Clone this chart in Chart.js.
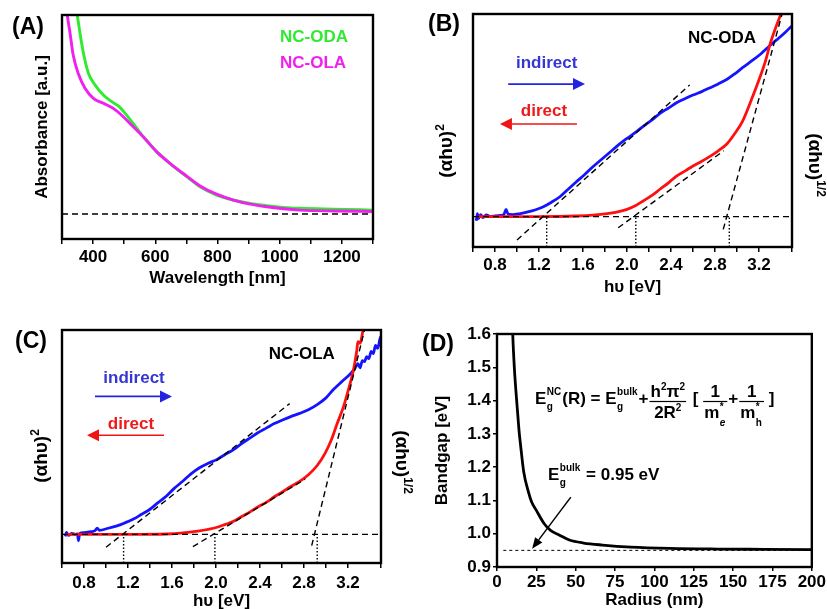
<!DOCTYPE html>
<html>
<head>
<meta charset="utf-8">
<title>Absorption spectra and bandgap</title>
<script src="https://cdn.jsdelivr.net/npm/chart.js@4.4.1/dist/chart.umd.min.js"></script>
<style>
  html, body { margin: 0; padding: 0; background: #fff; }
  body { position: relative; width: 827px; height: 609px; overflow: hidden; }
  canvas { position: absolute; }
</style>
</head>
<body>
<canvas id="chartA" width="413" height="300" style="left:0;top:0"></canvas>
<canvas id="chartB" width="414" height="300" style="left:413px;top:0"></canvas>
<canvas id="chartD" width="414" height="315" style="left:413px;top:300px"></canvas>
<canvas id="chartC" width="425" height="315" style="left:0;top:300px"></canvas>
<script>
const FONT = "'Liberation Sans', Arial, Helvetica, sans-serif";
Chart.defaults.font.family = FONT;
Chart.defaults.font.size = 17;
Chart.defaults.font.weight = 'bold';
Chart.defaults.color = '#000';

// ---------------- (A) absorbance ----------------
const wlODA  = [345, 349, 358, 369, 385, 406, 433, 460, 481, 503, 529, 561, 604, 647, 701, 744, 797, 851, 905, 958, 1012, 1065, 1172, 1301];
const absODA = [1.04, 1.0, 0.918, 0.829, 0.74, 0.688, 0.643, 0.613, 0.594, 0.561, 0.516, 0.457, 0.39, 0.338, 0.278, 0.233, 0.196, 0.174, 0.159, 0.149, 0.141, 0.137, 0.133, 0.129];
const wlOLA  = [314, 317, 326, 336, 352, 374, 401, 433, 465, 497, 529, 561, 604, 647, 701, 744, 797, 851, 905, 958, 1012, 1065, 1172, 1301];
const absOLA = [1.04, 1.0, 0.918, 0.821, 0.74, 0.673, 0.628, 0.606, 0.583, 0.546, 0.501, 0.457, 0.39, 0.338, 0.281, 0.237, 0.2, 0.174, 0.156, 0.144, 0.135, 0.129, 0.125, 0.123];
const absBaseX = [300, 1300];
const absBaseY = [0.112, 0.112];
const wlTickLabels = [400, 600, 800, 1000, 1200];

// ---------------- (B) NC-ODA ----------------
const bIndX = [0.63, 0.64, 0.65, 0.67, 0.69, 0.72, 0.76, 0.80, 0.85, 0.88, 0.90, 0.92, 0.96, 1.02, 1.09, 1.17, 1.24, 1.31, 1.39, 1.46, 1.54, 1.62, 1.69, 1.77, 1.85, 1.92, 2.00, 2.08, 2.15, 2.23, 2.30, 2.38, 2.45, 2.53, 2.60, 2.68, 2.75, 2.83, 2.91, 2.98, 3.05, 3.13, 3.21, 3.28, 3.36, 3.44, 3.51];
const bIndY = [-0.02, 0.015, -0.01, 0.01, -0.005, 0.008, 0.0, 0.004, 0.006, 0.01, 0.035, 0.012, 0.01, 0.014, 0.022, 0.034, 0.049, 0.07, 0.098, 0.133, 0.172, 0.21, 0.246, 0.283, 0.32, 0.353, 0.386, 0.417, 0.447, 0.479, 0.51, 0.537, 0.562, 0.583, 0.60, 0.617, 0.635, 0.655, 0.678, 0.705, 0.735, 0.767, 0.80, 0.835, 0.872, 0.91, 0.948];
const bDirX = [0.65, 0.9, 1.2, 1.54, 1.69, 1.85, 2.0, 2.08, 2.15, 2.23, 2.30, 2.38, 2.45, 2.53, 2.60, 2.68, 2.75, 2.83, 2.91, 2.98, 3.05, 3.13, 3.21, 3.26, 3.30, 3.35, 3.40, 3.42];
const bDirY = [0, 0, 0, 0.003, 0.007, 0.017, 0.036, 0.055, 0.078, 0.106, 0.135, 0.168, 0.20, 0.226, 0.25, 0.273, 0.296, 0.325, 0.36, 0.41, 0.47, 0.575, 0.69, 0.77, 0.85, 0.93, 1.003, 1.04];
const bTanX = [[1.0, 2.57], [1.92, 2.88], [2.875, 3.41]];
const bTanY = [[-0.115, 0.65], [-0.055, 0.325], [-0.063, 1.0]];
const bGaps = [1.27, 2.08, 2.93];

// ---------------- (C) NC-OLA ----------------
const cIndX = [0.63, 0.64, 0.66, 0.69, 0.72, 0.74, 0.75, 0.76, 0.80, 0.86, 0.90, 0.92, 0.94, 1.02, 1.10, 1.17, 1.25, 1.32, 1.40, 1.47, 1.55, 1.62, 1.70, 1.77, 1.85, 1.93, 2.01, 2.08, 2.16, 2.23, 2.31, 2.38, 2.46, 2.53, 2.61, 2.68, 2.76, 2.84, 2.92, 3.00, 3.07, 3.15, 3.22, 3.26, 3.29, 3.31, 3.33, 3.35, 3.37, 3.39, 3.41, 3.43, 3.45, 3.47, 3.49, 3.50];
const cIndY = [-0.01, 0.01, -0.005, 0.005, 0.0, 0.002, -0.03, 0.004, 0.008, 0.013, 0.018, 0.03, 0.02, 0.03, 0.042, 0.056, 0.075, 0.097, 0.123, 0.154, 0.188, 0.225, 0.261, 0.295, 0.326, 0.348, 0.367, 0.39, 0.415, 0.443, 0.472, 0.497, 0.521, 0.542, 0.561, 0.576, 0.592, 0.61, 0.635, 0.668, 0.71, 0.75, 0.785, 0.81, 0.835, 0.815, 0.85, 0.845, 0.87, 0.86, 0.895, 0.885, 0.925, 0.91, 0.955, 0.97];
const cDirX = [0.64, 0.9, 1.2, 1.55, 1.70, 1.85, 2.01, 2.08, 2.16, 2.23, 2.31, 2.38, 2.46, 2.53, 2.61, 2.68, 2.76, 2.84, 2.92, 2.99, 3.05, 3.10, 3.16, 3.21, 3.25, 3.28, 3.29, 3.31, 3.33, 3.34];
const cDirY = [0, 0, 0, 0.002, 0.007, 0.017, 0.035, 0.048, 0.064, 0.086, 0.11, 0.134, 0.158, 0.184, 0.21, 0.234, 0.259, 0.292, 0.337, 0.395, 0.464, 0.54, 0.626, 0.72, 0.805, 0.9, 0.943, 0.935, 0.98, 1.01];
const cTanX = [[1.0, 2.67], [1.79, 2.81], [2.87, 3.35]];
const cTanY = [[-0.063, 0.64], [-0.06, 0.27], [-0.055, 1.0]];
const cGaps = [1.16, 1.99, 2.92];

const evTickLabels = [0.8, 1.2, 1.6, 2.0, 2.4, 2.8, 3.2];

// ---------------- (D) bandgap vs radius ----------------
const dRadius = [9.7, 10, 11, 12, 13, 14, 15, 17, 20, 22, 25, 30, 34, 40, 46, 55, 67, 85, 110, 140, 170, 200];
const dGap    = [1.65, 1.60, 1.50, 1.43, 1.37, 1.31, 1.265, 1.185, 1.125, 1.095, 1.07, 1.03, 1.01, 0.995, 0.981, 0.972, 0.966, 0.96, 0.956, 0.954, 0.953, 0.952];
const dBulkX = [4, 200];
const dBulkY = [0.95, 0.95];

// ---------------- helpers ----------------
function pts(xs, ys) { return xs.map((x, i) => ({ x: x, y: ys[i] })); }

function curve(xs, ys, color, width) {
  return { data: pts(xs, ys), borderColor: color, borderWidth: width, showLine: true,
           pointRadius: 0, cubicInterpolationMode: 'monotone', fill: false };
}

function guide(xs, ys, dash, width) {
  return { data: pts(xs, ys), borderColor: '#000', borderWidth: width || 1.4, borderDash: dash,
           showLine: true, pointRadius: 0, tension: 0, fill: false };
}

function xAxis(min, max, step, labels, height, tickPad, title, titlePad, fmt) {
  return {
    type: 'linear', min: min, max: max,
    ticks: {
      stepSize: step, autoSkip: false, maxRotation: 0, padding: tickPad,
      callback: v => labels.some(l => Math.abs(l - v) < 1e-6) ? (fmt ? fmt(v) : v) : ''
    },
    grid: { drawOnChartArea: false, tickLength: 5, color: '#000', lineWidth: 1.5 },
    border: { display: false },
    title: { display: true, text: title, padding: { top: 0, bottom: titlePad } },
    afterFit: s => { s.height = height; }
  };
}

function yHidden(min, max, width, title, titlePad) {
  return {
    type: 'linear', min: min, max: max,
    ticks: { display: false }, grid: { display: false }, border: { display: false },
    title: title ? { display: true, text: title, padding: { top: titlePad, bottom: 0 } } : { display: false },
    afterFit: s => { s.width = width; }
  };
}

function options(pad, scales) {
  return {
    responsive: false, animation: false, events: [],
    layout: { padding: pad },
    plugins: { legend: { display: false }, tooltip: { enabled: false } },
    scales: scales
  };
}

function setFont(ctx, size, italic) {
  ctx.font = (italic ? 'italic ' : '') + 'bold ' + size + 'px ' + FONT;
}

function text(ctx, t, x, y, color, size, align) {
  setFont(ctx, size || 17);
  ctx.fillStyle = color || '#000';
  ctx.textAlign = align || 'center';
  ctx.textBaseline = 'middle';
  ctx.fillText(t, x, y);
}

function arrow(ctx, x1, y1, x2, y2, color, lw, hl, hw) {
  const a = Math.atan2(y2 - y1, x2 - x1), c = Math.cos(a), s = Math.sin(a);
  ctx.strokeStyle = color; ctx.fillStyle = color; ctx.lineWidth = lw; ctx.setLineDash([]);
  ctx.beginPath(); ctx.moveTo(x1, y1); ctx.lineTo(x2 - hl * c, y2 - hl * s); ctx.stroke();
  ctx.beginPath(); ctx.moveTo(x2, y2);
  ctx.lineTo(x2 - hl * c + hw * s, y2 - hl * s - hw * c);
  ctx.lineTo(x2 - hl * c - hw * s, y2 - hl * s + hw * c);
  ctx.closePath(); ctx.fill();
}

// rich text runs: T = plain piece, S = stacked super/sub pair
const T = (t, s, dy, it) => ({ t: t, s: s, dy: dy || 0, it: !!it });
const S = (a, b) => ({ stack: [a, b] });

function partW(ctx, p) {
  if (p.stack) return Math.max(partW(ctx, p.stack[0]), partW(ctx, p.stack[1])) + 1.5;
  setFont(ctx, p.s, p.it);
  return ctx.measureText(p.t).width;
}
function runW(ctx, parts) { return parts.reduce((w, p) => w + partW(ctx, p), 0); }
function drawRun(ctx, parts, x, y) {
  let cx = x;
  ctx.textAlign = 'left'; ctx.textBaseline = 'alphabetic';
  parts.forEach(p => {
    const list = p.stack ? p.stack : [p];
    list.forEach(q => { setFont(ctx, q.s, q.it); ctx.fillText(q.t, cx + (p.stack ? 0.5 : 0), y + q.dy); });
    cx += partW(ctx, p);
  });
  return cx;
}
function drawFrac(ctx, num, den, x, y) {
  const wn = runW(ctx, num), wd = runW(ctx, den), w = Math.max(wn, wd) + 2;
  drawRun(ctx, num, x + (w - wn) / 2, y - 7);
  drawRun(ctx, den, x + (w - wd) / 2, y + 14);
  ctx.fillRect(x, y - 3, w, 1.2);
  return x + w;
}

function rotTitle(ctx, parts, x, y, rot) {
  ctx.save();
  ctx.translate(x, y); ctx.rotate(rot);
  ctx.fillStyle = '#000';
  drawRun(ctx, parts, -runW(ctx, parts) / 2, 0.35 * parts[0].s);
  ctx.restore();
}

function panelPlugin(draw) {
  return {
    id: 'panel',
    afterDraw(chart) {
      const ctx = chart.ctx, a = chart.chartArea;
      ctx.save();
      ctx.setLineDash([]);
      ctx.strokeStyle = '#000'; ctx.lineWidth = 2.4;
      ctx.strokeRect(a.left, a.top, a.right - a.left, a.bottom - a.top);
      draw(chart, ctx, chart.scales.x, chart.scales.y);
      ctx.restore();
    }
  };
}

const sq = [T('(\u03b1h\u03c5)', 19), T('2', 12, -8)];
const root = [T('(\u03b1h\u03c5)', 19), T('1/2', 12, -8)];

function bandPanel(notes) {
  return function (chart, ctx, x, y) {
    text(ctx, notes.name, x.getPixelForValue(notes.nameAt[0]), y.getPixelForValue(notes.nameAt[1]));
    text(ctx, 'indirect', x.getPixelForValue(notes.indAt[0]), y.getPixelForValue(notes.indAt[1]), '#3636d2');
    text(ctx, 'direct', x.getPixelForValue(notes.dirAt[0]), y.getPixelForValue(notes.dirAt[1]), '#f01818');
    const ia = notes.indArrow, da = notes.dirArrow;
    arrow(ctx, x.getPixelForValue(ia[0]), y.getPixelForValue(ia[2]), x.getPixelForValue(ia[1]), y.getPixelForValue(ia[2]), '#2424e0', 1.7, 12, 6);
    arrow(ctx, x.getPixelForValue(da[0]), y.getPixelForValue(da[2]), x.getPixelForValue(da[1]), y.getPixelForValue(da[2]), '#f01414', 1.7, 12, 6);
    text(ctx, notes.letter, notes.letterAt[0], notes.letterAt[1], '#000', 23);
    rotTitle(ctx, sq, notes.leftAt[0], notes.leftAt[1], -Math.PI / 2);
    rotTitle(ctx, root, notes.rightAt[0], notes.rightAt[1], Math.PI / 2);
  };
}

function bandDatasets(ix, iy, dx, dy, tx, ty, gaps, yMin) {
  const sets = [];
  sets.push(guide([0.6, 3.5], [0, 0], [6, 4]));
  tx.forEach((t, i) => sets.push(guide(t, ty[i], [6, 4])));
  gaps.forEach(g => sets.push(guide([g, g], [yMin, 0], [1.5, 2], 1.4)));
  sets.push(curve(dx, dy, '#ff1010', 2.8));
  sets.push(curve(ix, iy, '#1414ff', 2.8));
  return sets;
}

// ---------------- (A) ----------------
new Chart(document.getElementById('chartA'), {
  type: 'scatter',
  data: { datasets: [
    guide(absBaseX, absBaseY, [6, 4], 1.5),
    curve(wlOLA, absOLA, '#f020f0', 2.9),
    curve(wlODA, absODA, '#30ea30', 2.9)
  ] },
  options: options({ top: 15, right: 40, left: 0, bottom: 0 }, {
    x: xAxis(300, 1300, 100, wlTickLabels, 61, 3, 'Wavelength [nm]', 11.8),
    y: yHidden(0, 1, 62, 'Absorbance [a.u.]', 32.3)
  }),
  plugins: [panelPlugin((chart, ctx, x, y) => {
    text(ctx, 'NC-ODA', x.getPixelForValue(1001), y.getPixelForValue(0.902), '#30ea30', 17, 'left');
    text(ctx, 'NC-OLA', x.getPixelForValue(1001), y.getPixelForValue(0.786), '#f020f0', 17, 'left');
    text(ctx, '(A)', 28, 28, '#000', 23);
  })]
});

// ---------------- (B) ----------------
new Chart(document.getElementById('chartB'), {
  type: 'scatter',
  data: { datasets: bandDatasets(bIndX, bIndY, bDirX, bDirY, bTanX, bTanY, bGaps, -0.15) },
  options: options({ top: 14, right: 35, left: 0, bottom: 0 }, {
    x: xAxis(0.6, 3.5, 0.2, evTickLabels, 53, 3, 'h\u03c5 [eV]', 2.3, v => v.toFixed(1)),
    y: yHidden(-0.15, 1, 60)
  }),
  plugins: [panelPlugin(bandPanel({
    name: 'NC-ODA', nameAt: [2.864, 0.881],
    indAt: [1.27, 0.758], dirAt: [1.245, 0.521],
    indArrow: [0.92, 1.618, 0.654], dirArrow: [1.545, 0.845, 0.457],
    letter: '(B)', letterAt: [31, 25],
    leftAt: [32, 151], rightAt: [403, 165]
  }))]
});

// ---------------- (C) ----------------
new Chart(document.getElementById('chartC'), {
  type: 'scatter',
  data: { datasets: bandDatasets(cIndX, cIndY, cDirX, cDirY, cTanX, cTanY, cGaps, -0.14) },
  options: options({ top: 30, right: 44, left: 0, bottom: 0 }, {
    x: xAxis(0.6, 3.5, 0.2, evTickLabels, 52, 5, 'h\u03c5 [eV]', 3.3, v => v.toFixed(1)),
    y: yHidden(-0.14, 1, 62)
  }),
  plugins: [panelPlugin(bandPanel({
    name: 'NC-OLA', nameAt: [2.78, 0.883],
    indAt: [1.255, 0.766], dirAt: [1.227, 0.537],
    indArrow: [0.9, 1.6, 0.675], dirArrow: [1.527, 0.827, 0.485],
    letter: '(C)', letterAt: [31, 42],
    leftAt: [40, 156], rightAt: [403, 162]
  }))]
});

// ---------------- (D) ----------------
const dX = xAxis(0, 200, 25, [0, 25, 50, 75, 100, 125, 150, 175, 200], 48, 1, 'Radius (nm)', 4.3);
dX.grid.tickLength = 4;
dX.ticks.callback = v => v;
new Chart(document.getElementById('chartD'), {
  type: 'scatter',
  data: { datasets: [
    guide(dBulkX, dBulkY, [3, 3], 1),
    curve(dRadius, dGap, '#000', 2.8)
  ] },
  options: options({ top: 34, right: 15, left: 0, bottom: 0 }, {
    x: dX,
    y: {
      type: 'linear', min: 0.9, max: 1.6,
      ticks: { stepSize: 0.1, padding: 2, callback: v => v.toFixed(1) },
      grid: { drawOnChartArea: false, tickLength: 4, color: '#000', lineWidth: 1.5 },
      border: { display: false },
      title: { display: true, text: 'Bandgap [eV]', padding: { top: 18.8, bottom: 0 } },
      afterFit: s => { s.width = 84; }
    }
  }),
  plugins: [panelPlugin((chart, ctx, x, y) => {
    const F = 17, f = 10;
    ctx.fillStyle = '#000';
    // E_g^NC(R) = E_g^bulk + h²π²/2R² [1/m_e* + 1/m_h*]
    let cx = x.getPixelForValue(24.1), by = y.getPixelForValue(1.39);
    cx = drawRun(ctx, [T('E', F), S(T('NC', f, -9), T('g', f, 6)), T('(R) = E', F),
                       S(T('bulk', f, -9), T('g', f, 6)), T('+', F)], cx, by);
    cx = drawFrac(ctx, [T('h', F), T('2', f, -7), T('\u03c0', F), T('2', f, -7)],
                       [T('2', F), T('R', F), T('2', f, -7)], cx + 1, by);
    cx = drawRun(ctx, [T(' [ ', F)], cx + 2, by);
    cx = drawFrac(ctx, [T('1', F)], [T('m', F), S(T('*', f, -8), T('e', f, 8, true))], cx, by);
    cx = drawRun(ctx, [T('+', F)], cx + 1, by);
    cx = drawFrac(ctx, [T('1', F)], [T('m', F), S(T('*', f, -8), T('h', f, 8))], cx + 1, by);
    drawRun(ctx, [T(' ]', F)], cx, by);
    // E_g^bulk = 0.95 eV
    drawRun(ctx, [T('E', F), S(T('bulk', f, -9), T('g', f, 6)), T(' = 0.95 eV', F)],
            x.getPixelForValue(32.4), y.getPixelForValue(1.161));
    arrow(ctx, x.getPixelForValue(46.9), y.getPixelForValue(1.11),
               x.getPixelForValue(22.3), y.getPixelForValue(0.955), '#000', 1.5, 11, 4.5);
    text(ctx, '(D)', 25, 45, '#000', 23);
  })]
});
</script>
</body>
</html>
